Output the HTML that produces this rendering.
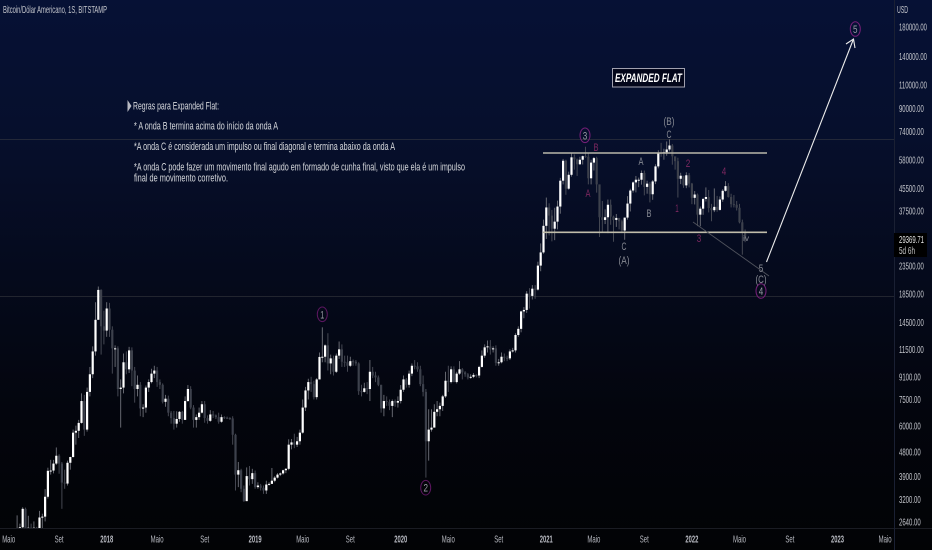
<!DOCTYPE html>
<html lang="pt">
<head>
<meta charset="utf-8">
<title>Bitcoin/Dólar Americano, 1S, BITSTAMP</title>
<style>
html,body{margin:0;padding:0;background:#02030a;}
#chart-root{position:relative;width:932px;height:550px;overflow:hidden;background:linear-gradient(180deg,#061135 0%,#060f2c 25%,#050a1c 50%,#03050d 75%,#020305 100%);}
svg{position:absolute;left:0;top:0;font-family:"Liberation Sans",sans-serif;}
</style>
</head>
<body>
<div id="chart-root">
<svg id="chart" width="932" height="550" viewBox="0 0 932 550">
  <defs><clipPath id="plot-clip"><rect x="0" y="0" width="894" height="528"></rect></clipPath></defs>
  <line x1="0" y1="139.5" x2="894" y2="139.5" stroke="#232838"></line>
  <line x1="0" y1="296.5" x2="894" y2="296.5" stroke="#22252f"></line>
  <line x1="0" y1="528.5" x2="932" y2="528.5" stroke="#1a1c23"></line>
  <line x1="894.5" y1="0" x2="894.5" y2="550" stroke="#1a2033"></line>
  <g id="candles" clip-path="url(#plot-clip)"></g>
  <g id="price-ticks"></g>
  <g id="time-ticks"></g>

  <text x="3" y="13" font-size="10.5" fill="#c4c6cc" textLength="104" lengthAdjust="spacingAndGlyphs">Bitcoin/Dólar Americano, 1S, BITSTAMP</text>
  <text x="897" y="13" font-size="10.5" fill="#c4c6cc" textLength="11" lengthAdjust="spacingAndGlyphs">USD</text>

  <rect x="894" y="233" width="33" height="24" fill="#000"></rect>
  <text x="899" y="243" font-size="10.5" fill="#e6e6e6" textLength="25" lengthAdjust="spacingAndGlyphs">29369.71</text>
  <text x="899" y="254" font-size="10" fill="#c8c8c8" textLength="16" lengthAdjust="spacingAndGlyphs">5d 6h</text>

  <path d="M127.5 100 L131.5 106 L127.5 112 Z" fill="#b8bac2"></path>
  <g fill="#d6d8dc" font-size="11">
    <text x="133" y="109.5" textLength="86" lengthAdjust="spacingAndGlyphs">Regras para Expanded Flat:</text>
    <text x="134" y="129.5" textLength="144" lengthAdjust="spacingAndGlyphs">* A onda B termina acima do início da onda A</text>
    <text x="134" y="150" textLength="261" lengthAdjust="spacingAndGlyphs">*A onda C é considerada um impulso ou final diagonal e termina abaixo da onda A</text>
    <text x="134" y="170.5" textLength="331" lengthAdjust="spacingAndGlyphs">*A onda C pode fazer um movimento final agudo em formado de cunha final, visto que ela é um impulso</text>
    <text x="134" y="181.5" textLength="94" lengthAdjust="spacingAndGlyphs">final de movimento corretivo.</text>
  </g>

  <rect x="612.5" y="68.5" width="72" height="18.5" fill="#03061a" stroke="#a0a0ae"></rect>
  <text x="615" y="82" font-size="12" font-weight="bold" font-style="italic" fill="#ffffff" textLength="67" lengthAdjust="spacingAndGlyphs">EXPANDED FLAT</text>

  <line x1="543" y1="153" x2="767" y2="153" stroke="#b9b7aa" stroke-width="1.6"></line>
  <line x1="543" y1="232.3" x2="767" y2="232.3" stroke="#c0bdaa" stroke-width="1.6"></line>
  <line x1="693" y1="222" x2="769" y2="276" stroke="#4f525c" stroke-width="0.9"></line>
  <g stroke="#ececec" stroke-width="1.1" fill="none">
    <line x1="766.5" y1="262" x2="853.5" y2="39"></line>
    <path d="M846 44 L853.5 39 L855 48"></path>
  </g>

  <g fill="none" stroke="#5c1660" stroke-width="1">
    <ellipse cx="322.3" cy="314.3" rx="5" ry="7.3"></ellipse>
    <ellipse cx="425.7" cy="487.7" rx="5" ry="7.3"></ellipse>
    <ellipse cx="585" cy="135.3" rx="5" ry="7.3" stroke="#761f78"></ellipse>
    <ellipse cx="761" cy="291" rx="5" ry="7.3" stroke="#761f78"></ellipse>
    <ellipse cx="855.3" cy="29" rx="5" ry="7.3" stroke="#761f78"></ellipse>
  </g>
  <g font-size="11" fill="#9a9ca4" text-anchor="middle">
    <text x="322.3" y="318.3" textLength="4" lengthAdjust="spacingAndGlyphs">1</text>
    <text x="425.7" y="491.7" textLength="4.5" lengthAdjust="spacingAndGlyphs">2</text>
    <text x="585" y="139.3" textLength="4.5" lengthAdjust="spacingAndGlyphs">3</text>
    <text x="761" y="295" textLength="4.5" lengthAdjust="spacingAndGlyphs">4</text>
    <text x="855.3" y="33" textLength="4.5" lengthAdjust="spacingAndGlyphs">5</text>
  </g>
  <g font-size="11" fill="#7d2860" text-anchor="middle">
    <text x="596" y="151" textLength="5" lengthAdjust="spacingAndGlyphs">B</text>
    <text x="588" y="197" textLength="5" lengthAdjust="spacingAndGlyphs">A</text>
    <text x="677" y="212" textLength="3.5" lengthAdjust="spacingAndGlyphs">1</text>
    <text x="688" y="167" textLength="4.5" lengthAdjust="spacingAndGlyphs">2</text>
    <text x="699" y="242" textLength="4.5" lengthAdjust="spacingAndGlyphs">3</text>
    <text x="724" y="175" textLength="4.5" lengthAdjust="spacingAndGlyphs">4</text>
  </g>
  <g font-size="11" fill="#878a93" text-anchor="middle">
    <text x="641" y="165" textLength="5" lengthAdjust="spacingAndGlyphs">A</text>
    <text x="649" y="217" textLength="5" lengthAdjust="spacingAndGlyphs">B</text>
    <text x="624" y="250" textLength="5" lengthAdjust="spacingAndGlyphs">C</text>
    <text x="624" y="264" textLength="11" lengthAdjust="spacingAndGlyphs">(A)</text>
    <text x="669" y="138" textLength="5" lengthAdjust="spacingAndGlyphs">C</text>
    <text x="669" y="125" textLength="11" lengthAdjust="spacingAndGlyphs">(B)</text>
    <text x="761" y="272" textLength="4.5" lengthAdjust="spacingAndGlyphs">5</text>
    <text x="761" y="283" textLength="11" lengthAdjust="spacingAndGlyphs">(C)</text>
    <text x="746" y="241" font-size="8" textLength="6" lengthAdjust="spacingAndGlyphs">iv</text>
  </g>
</svg>
</div>
<script>
// Weekly candles, first entry is the week of 15 May 2017 (week -33 relative to 1 Jan 2018).
const firstWeek = -33;
const firstOpen = 1780;
const closes = [
2050,2100,2520,2950,2500,2510,2500,2510,2200,2740,
2760,3270,4080,4090,4340,4640,4340,3690,3660,4370,
4590,5650,5740,6140,7400,5800,8000,9300,11300,14800,
19100,14000,13500,16300,13600,11600,11600,8200,8300,10300,
9700,11400,9600,8200,8500,6950,7000,8300,8700,9350,
9600,8700,8500,7350,7550,6700,6400,6100,6350,6750,
6300,7400,8200,7000,6300,6450,6700,7200,6400,6250,
6600,6550,6450,6200,6450,6420,6400,6380,5550,3950,
4100,3500,3150,3900,3800,4000,3550,3600,3530,3450,
3630,3650,3750,3850,3950,3990,4100,4150,5100,5200,
5100,5250,5650,7000,8100,8700,8550,7650,8900,10780,
10800,11900,10200,10650,9500,10900,11500,10350,10300,10000,
10400,10350,10200,8050,8000,8250,8200,9500,9200,9050,
8500,6950,7400,7350,7100,7400,7300,7400,8150,8900,
8500,9350,10000,9950,9700,8550,8000,5250,5800,5900,
6750,6900,7100,7700,8800,8700,9700,8700,9350,9700,
9450,9300,9050,9100,9250,9200,9900,10900,11700,11800,
11500,11600,10250,10300,10800,10700,10650,11300,11400,13000,
13700,15900,16100,18500,18150,19300,19150,23500,26300,33000,
38600,36000,32200,34200,38900,48500,57500,45300,51000,59200,
58200,55800,58000,59800,59500,49500,56600,58800,47000,35500,
34700,35500,39500,35700,34700,35300,34300,31700,35400,39900,
44600,47800,48900,48900,51800,46000,47300,43200,48200,54800,
61500,61300,61800,63300,65500,59700,57300,49300,50600,46600,
50800,47300,41900,43100,36300,38200,41500,42200,38400,37700,
38800,37800,41300,44500,46300,42200,39700,39500,38500,34000,
31300,29400
];
const highs = [
2200,2790,2600,2990,2980,2780,2600,2650,2530,2900,
2830,3490,4190,4480,4480,4980,4700,4400,4120,4450,
4600,5800,6000,6300,7900,7800,8300,9900,11800,17200,
19666,19200,16000,17200,17100,14000,11900,11800,8900,11100,
11300,11750,11700,9900,9200,8700,7200,8450,8900,9750,
10000,9900,8900,8600,7800,7750,6800,6800,6780,6800,
6800,7700,8480,8400,7150,6600,7000,7400,7400,6550,
6850,6800,6600,6700,6600,6500,6480,6450,6500,5600,
4400,4150,3600,4200,4250,4150,4090,3700,3650,3600,
3750,3700,4180,3900,4000,4020,4120,4180,5340,5350,
5600,5450,5800,7500,8350,8950,9100,8800,9000,11200,
13880,12000,13200,11000,10900,11100,12300,12000,10900,10900,
10800,10550,10500,10300,8500,8650,8700,10500,9900,9500,
9200,8500,7800,7700,7500,7500,7500,7700,8480,9200,
9000,9600,10200,10500,10300,10000,9200,8200,6900,6900,
7200,7400,7300,7800,9500,10000,9950,9950,9500,10400,
9800,9550,9400,9300,9400,9300,10000,11400,12000,12400,
12450,11800,11900,10600,11200,11100,10900,11500,11650,13200,
14000,16000,16500,18900,19400,19900,19900,24300,28400,34800,
42000,40000,37800,38500,40900,49700,58400,58000,52400,61700,
60700,58600,59500,60100,64800,61500,58000,59400,59500,46600,
40800,38000,41300,41300,36000,36500,35100,34800,35400,42500,
45300,48200,50500,49800,52900,52900,48500,48000,48800,55800,
62900,67000,63700,67800,69000,66300,59400,59000,51900,50000,
52100,51800,47600,44400,43500,38900,41900,45800,44800,39800,
45400,42600,42400,45100,48300,47500,43400,42900,40800,39800,
34800,32000
];
const lows = [
1760,1950,2100,2450,2100,2450,2200,2450,1950,1850,
2420,2650,3220,3950,3990,4290,3980,2950,3500,3600,
4120,4570,5100,5400,6100,5500,5700,7700,9000,10900,
14800,11000,12000,12800,12800,9350,9900,7700,5900,7900,
9300,9400,8400,7300,7700,6500,6450,6700,8000,8600,
9000,8350,8200,7250,7050,6500,6100,5800,5900,6200,
6100,6300,7350,6900,5900,5900,6300,6650,6150,6100,
6200,6400,6350,6100,6150,6350,6350,6300,5100,3450,
3550,3400,3130,3150,3600,3650,3500,3500,3450,3350,
3350,3600,3650,3700,3820,3900,3950,4000,4100,4900,
4950,5000,5100,5600,6800,7500,8000,7500,7500,8900,
10300,10300,9600,9300,9200,9400,10600,9900,9900,9500,
9900,10000,10000,7800,7700,7950,7850,7400,9000,8700,
8400,6700,6500,7100,6850,6450,7050,7000,7250,8000,
8300,8300,9150,9700,9500,8400,7700,3850,4450,5700,
5900,6500,6500,6800,7600,8000,8600,8700,8600,9250,
8900,9100,8900,8950,9000,9050,9000,9850,10700,11200,
11000,11200,10000,10000,10200,10400,10400,10500,11200,11200,
12800,13300,15000,15700,16300,17600,17700,19000,22400,26000,
29500,30400,28900,29200,32000,36600,47000,43000,44900,50200,
53300,50500,55500,55700,59000,47000,47000,52900,43800,30000,
31200,33500,31000,33300,28800,32700,32000,31000,29300,34800,
37300,43800,43900,45900,46900,42800,43400,40300,41200,47100,
53900,59500,58000,60000,62300,55600,53300,42000,47100,45600,
45500,45800,39700,39600,32900,32900,36250,40600,37000,34300,
37100,37200,37600,40500,44200,42000,38600,38600,37600,33700,
25800,28700
];
const priceTicks = [180000,140000,110000,90000,74000,58000,45500,37500,23500,18500,14500,11500,9100,7500,6000,4800,3900,3200,2640];
const timeLabels = ["Maio","Set","2018","Maio","Set","2019","Maio","Set","2020","Maio","Set","2021","Maio","Set","2022","Maio","Set","2023","Maio"];
const timeLabelWeeks = [-35,-17,0,18,35,53,70,87,105,122,140,157,174,192,209,226,244,261,278];

const SVG_NS = "http://www.w3.org/2000/svg";
function xOf(week){ return 106.7 + 2.8 * week; }
function yOf(price){ return 27 + 117.2 * Math.log(180000 / price); }

function make(tag, attrs, parent){
  const el = document.createElementNS(SVG_NS, tag);
  for (const k in attrs) el.setAttribute(k, attrs[k]);
  parent.appendChild(el);
  return el;
}

const candleLayer = document.getElementById("candles");
closes.forEach(function(close, n){
  const open = n === 0 ? firstOpen : closes[n - 1];
  const up = close >= open;
  const x = xOf(firstWeek + n);
  const top = yOf(Math.max(open, close));
  const bottom = yOf(Math.min(open, close));
  const g = make("g", {}, candleLayer);
  
  
  const wick = make("line", {x1:x, x2:x, y1:yOf(highs[n]), y2:yOf(lows[n]), stroke: up ? "#70727a" : "#4c4f59", "stroke-width":0.9}, g);
  
  
  const body = make("rect", {x:x - 1.1, y:top, width:2.2, height:Math.max(bottom - top, 1), fill: up ? "#ffffff" : "#3d414c"}, g);
  
  
});

const priceLayer = document.getElementById("price-ticks");
priceTicks.forEach(function(p){
  const s = p.toFixed(2);
  const t = make("text", {x:899, y:yOf(p) + 3.7, "font-size":10.5, fill:"#c4c6cc", textLength:s.length * 3.1, lengthAdjust:"spacingAndGlyphs"}, priceLayer);
  t.textContent = s;
  
  
});

const timeLayer = document.getElementById("time-ticks");
timeLabels.forEach(function(label, n){
  const isYear = /^\d+$/.test(label);
  const w = isYear ? 13 : (label === "Set" ? 9 : 13);
  const t = make("text", {x:xOf(timeLabelWeeks[n]) - w / 2, y:542.5, "font-size":10.5, "font-weight": isYear ? "bold" : "normal", fill:"#b8bac2", textLength:w, lengthAdjust:"spacingAndGlyphs"}, timeLayer);
  t.textContent = label;
  
  
});
</script>
</body>
</html>
